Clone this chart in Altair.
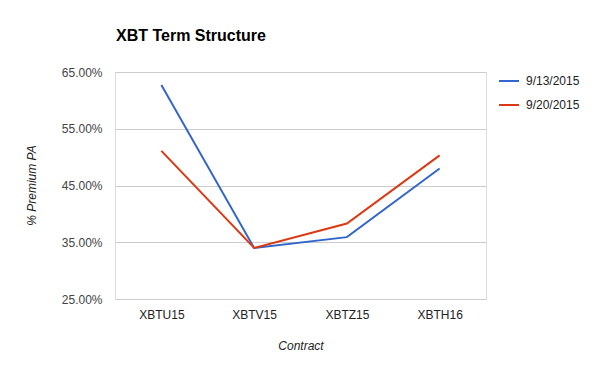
import altair as alt
import pandas as pd

contracts = ["XBTU15", "XBTV15", "XBTZ15", "XBTH16"]
series_names = ["9/13/2015", "9/20/2015"]
values_0913 = [0.627, 0.340, 0.359, 0.480]
values_0920 = [0.511, 0.340, 0.383, 0.503]
y_ticks = [0.25, 0.35, 0.45, 0.55, 0.65]
colors = ["#3366CC", "#DC3912"]

rows = []
for name, vals in zip(series_names, [values_0913, values_0920]):
    for c, v in zip(contracts, vals):
        rows.append({"Contract": c, "Series": name, "Value": v})
df = pd.DataFrame(rows)

FONT = "Liberation Sans"

chart = alt.Chart(df).mark_line(strokeWidth=2).encode(
    x=alt.X("Contract:N", sort=contracts,
            scale=alt.Scale(type="point", padding=0.5),
            axis=alt.Axis(title="Contract", labelAngle=0, ticks=False, domain=False,
                          grid=False, labelFontSize=12, labelColor="#222",
                          labelFont=FONT, labelPadding=10,
                          titleFont=FONT, titleFontSize=12, titleFontStyle="italic",
                          titleFontWeight="normal", titleColor="#222",
                          titleBaseline="alphabetic", titleY=50)),
    y=alt.Y("Value:Q", scale=alt.Scale(domain=[0.25, 0.65], nice=False, zero=False),
            axis=alt.Axis(title="% Premium PA", format=".2%", values=y_ticks,
                          ticks=False, domain=False, grid=True, gridColor="#cccccc",
                          labelFontSize=12, labelColor="#444", labelFont=FONT,
                          labelPadding=13,
                          titleFont=FONT, titleFontSize=12, titleFontStyle="italic",
                          titleFontWeight="normal", titleColor="#222",
                          titleAngle=-90, titleBaseline="alphabetic",
                          titleX=-80, titleY=113)),
    color=alt.Color("Series:N", sort=series_names,
                    scale=alt.Scale(domain=series_names, range=colors),
                    legend=alt.Legend(title=None, orient="none", legendX=383, legendY=-2,
                                      symbolType="stroke", symbolSize=400,
                                      symbolStrokeWidth=2, labelFontSize=12,
                                      labelFont=FONT, labelColor="#222",
                                      rowPadding=7, labelOffset=6)),
).properties(
    width=371, height=227,
    title=alt.Title("XBT Term Structure", anchor="start", frame="group",
                    font=FONT, fontSize=16, fontWeight="bold", color="#000",
                    offset=22, dx=1),
    autosize=alt.AutoSizeParams(type="none"),
    padding={"left": 107, "top": 64, "right": 106, "bottom": 64},
).configure_view(stroke=None).configure(background="white")

chart.save("out.html", embed_options={"renderer": "svg", "actions": False})
